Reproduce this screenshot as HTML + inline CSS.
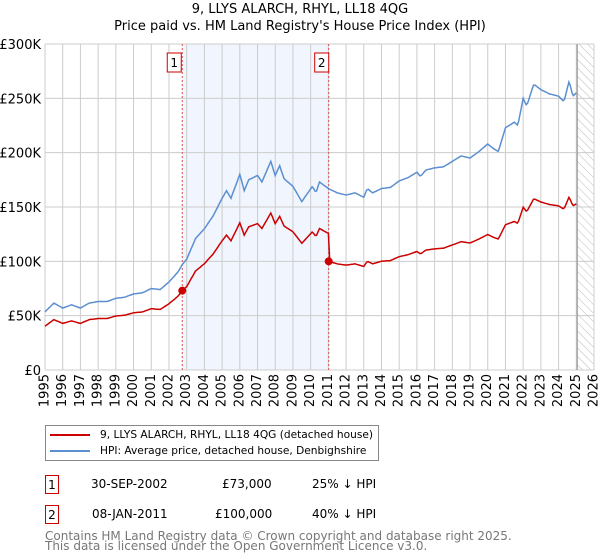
<!DOCTYPE html>
<html><head><meta charset="utf-8"><style>
body{margin:0;background:#fff;font-family:"DejaVu Sans","Liberation Sans",sans-serif;}
#wrap{position:relative;width:600px;height:560px;overflow:hidden;}
.t{position:absolute;font-size:13px;color:#000;white-space:nowrap;}
.box{position:absolute;border:1px solid #c00;width:14px;height:19px;font-size:12px;text-align:center;line-height:19px;box-sizing:border-box;}
.le{position:absolute;left:4px;font-size:10.6px;white-space:nowrap;}
</style></head><body><div id="wrap">
<div class="t" style="left:0;width:600px;text-align:center;top:2px;">9, LLYS ALARCH, RHYL, LL18 4QG</div>
<div class="t" style="left:0;width:600px;text-align:center;top:19px;">Price paid vs. HM Land Registry's House Price Index (HPI)</div>
<svg id="svg" width="600" height="420" style="position:absolute;left:0;top:0">
<defs><pattern id="hatch" width="6" height="6" patternUnits="userSpaceOnUse" patternTransform="rotate(-45)"><line x1="0" y1="0" x2="0" y2="6" stroke="#bbb" stroke-width="1"/></pattern></defs>
</svg>
<div style="position:absolute;left:45px;top:425px;width:334px;height:36px;border:1px solid #888;box-sizing:border-box;">
<div class="le" style="top:3px;"><span style="display:inline-block;width:40px;height:2px;background:#c00;vertical-align:middle;margin-right:10px;"></span>9, LLYS ALARCH, RHYL, LL18 4QG (detached house)</div>
<div class="le" style="top:19px;"><span style="display:inline-block;width:40px;height:2px;background:#5b8fd0;vertical-align:middle;margin-right:10px;"></span>HPI: Average price, detached house, Denbighshire</div>
</div>
<div class="box" style="left:45px;top:475px;">1</div>
<div class="t" style="left:91px;top:477px;font-size:12px;">30-SEP-2002</div>
<div class="t" style="left:222px;top:477px;font-size:12px;">£73,000</div>
<div class="t" style="left:312px;top:477px;font-size:12px;">25% ↓ HPI</div>
<div class="box" style="left:45px;top:505px;">2</div>
<div class="t" style="left:92px;top:507px;font-size:12px;">08-JAN-2011</div>
<div class="t" style="left:215px;top:507px;font-size:12px;">£100,000</div>
<div class="t" style="left:312px;top:507px;font-size:12px;">40% ↓ HPI</div>
<div class="t" style="left:45px;top:531px;font-size:12px;color:#777;line-height:10px;">Contains HM Land Registry data © Crown copyright and database right 2025.<br>This data is licensed under the Open Government Licence v3.0.</div>
</div>
<script>
const hpiYears=[1995,1995.5,1996,1996.5,1997,1997.5,1998,1998.5,1999,1999.5,2000,2000.5,2001,2001.5,2002,2002.5,2002.75,2003,2003.5,2004,2004.5,2005,2005.25,2005.5,2006,2006.25,2006.5,2007,2007.25,2007.75,2008,2008.25,2008.5,2009,2009.5,2010.1,2010.3,2010.5,2011,2011.5,2012,2012.5,2013,2013.2,2013.5,2014,2014.5,2015,2015.5,2016,2016.2,2016.5,2017,2017.5,2018,2018.5,2019,2019.5,2020,2020.3,2020.6,2021,2021.5,2021.7,2022,2022.2,2022.6,2023,2023.5,2024,2024.3,2024.6,2024.8,2025.0];
const hpiValues=[53.6,61.6,57,60,57,61.6,63,63,66,67,70,71,75,74,81,90,97,102,121,130,142,158,165,158,180,165,175,179,173,192,179,188,176,169,155,169,163,173,167,163,161,163,159,167,163,167,168,174,177,182,178,184,186,187,192,197,195,201,208,204,201,223,228,225,250,243,263,258,254,252,247,266,252,255];
const saleYears=[2002.75,2011.02];
const salePrices=[73,100];
const yTicks=[0,50,100,150,200,250,300];
const yTickLabels=["£0","£50K","£100K","£150K","£200K","£250K","£300K"];
const xTicks=[1995,1996,1997,1998,1999,2000,2001,2002,2003,2004,2005,2006,2007,2008,2009,2010,2011,2012,2013,2014,2015,2016,2017,2018,2019,2020,2021,2022,2023,2024,2025,2026];

const L=45,R=594,T=44,B=370;
const X=y=>L+(y-1995)/(2026-1995)*(R-L);
const Y=v=>B-v/300*(B-T);
const svg=document.getElementById('svg');
const NS='http://www.w3.org/2000/svg';
function mk(tag,attrs){const e=document.createElementNS(NS,tag);for(const k in attrs)e.setAttribute(k,attrs[k]);svg.appendChild(e);return e;}
function hpiAt(t){for(let i=0;i<hpiYears.length-1;i++){if(t<=hpiYears[i+1]){const f=(t-hpiYears[i])/(hpiYears[i+1]-hpiYears[i]);return hpiValues[i]+f*(hpiValues[i+1]-hpiValues[i]);}}return hpiValues[hpiValues.length-1];}

let e=mk('rect',{x:X(saleYears[0]),y:T,width:X(saleYears[1])-X(saleYears[0]),height:B-T,fill:'#eef3fc',opacity:0.8});

e=mk('rect',{x:X(2025.05),y:T,width:R-X(2025.05),height:B-T,fill:'url(#hatch)'});

xTicks.forEach(t=>{const g=mk('line',{x1:X(t),x2:X(t),y1:T,y2:B,stroke:'#ccc','stroke-width':1});

const tx=mk('text',{x:0,y:0,'font-size':13,'text-anchor':'end','dominant-baseline':'central',transform:`translate(${X(t)},${B+4}) rotate(-90)`,'font-family':'DejaVu Sans, Liberation Sans, sans-serif'});tx.textContent=t;
});
yTicks.forEach((v,i)=>{const g=mk('line',{x1:L,x2:R,y1:Y(v),y2:Y(v),stroke:'#ccc','stroke-width':1});

const tx=mk('text',{x:L-4,y:Y(v)+5,'font-size':13,'text-anchor':'end','font-family':'DejaVu Sans, Liberation Sans, sans-serif'});tx.textContent=yTickLabels[i];
});
e=mk('line',{x1:X(2025.05),x2:X(2025.05),y1:T,y2:B,stroke:'#999','stroke-width':1.2});

saleYears.forEach((s,i)=>{const l=mk('line',{x1:X(s),x2:X(s),y1:T,y2:B,stroke:'#e05050','stroke-width':1,'stroke-dasharray':'2,2'});

const r=mk('rect',{x:X(s)-14+(i?0:-1),y:53,width:14,height:19,fill:'#fff',stroke:'#c00'});

const tx=mk('text',{x:X(s)-7+(i?0:-1),y:67,'font-size':12,'text-anchor':'middle','font-family':'DejaVu Sans, sans-serif'});tx.textContent=i+1;
});
let d='';const pts=[];for(let t=1995;t<=2025.0001;t+=1/12)pts.push(t);
pts.forEach((t,i)=>{d+=(i?'L':'M')+X(t).toFixed(1)+','+Y(hpiAt(t)).toFixed(1);});
e=mk('path',{d:d,fill:'none',stroke:'#5b8fd0','stroke-width':1.5});

d='';pts.forEach((t,i)=>{let k=0;for(let j=0;j<saleYears.length;j++)if(t>=saleYears[j])k=j;
const v=salePrices[k]*hpiAt(t)/hpiAt(saleYears[k]);d+=(i?'L':'M')+X(t).toFixed(1)+','+Y(v).toFixed(1);});
e=mk('path',{d:d,fill:'none',stroke:'#c00','stroke-width':1.5});

saleYears.forEach((s,i)=>{const c=mk('circle',{cx:X(s),cy:Y(salePrices[i]),r:4,fill:'#c00'});
});
</script></body></html>
